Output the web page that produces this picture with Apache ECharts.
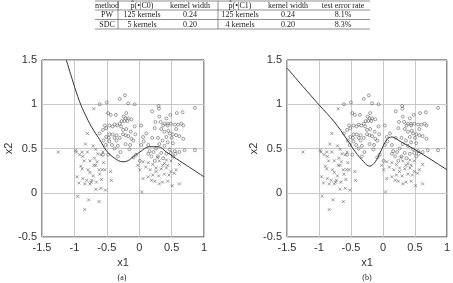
<!DOCTYPE html>
<html><head><meta charset="utf-8">
<script src="https://cdn.jsdelivr.net/npm/echarts@6/dist/echarts.min.js"></script>
<style>html,body{margin:0;padding:0;background:#fff}#c{width:453px;height:283px}</style>
</head><body><div id="c"></div>
<script>
// ---- data ----
const xTicks = [-1.5, -1, -0.5, 0, 0.5, 1];
const yTicks = [-0.5, 0, 0.5, 1, 1.5];
const panelLabels = ['(a)', '(b)'];
const tableHeader = ['method', 'p̂(•|C0)', 'kernel width', 'p̂(•|C1)', 'kernel width', 'test error rate'];
const tableRowPW = ['PW', '125 kernels', '0.24', '125 kernels', '0.24', '8.1%'];
const tableRowSDC = ['SDC', '5 kernels', '0.20', '4 kernels', '0.20', '8.3%'];

const circlePts = [
 [-0.5,1.02],[-0.61,1.0],[-0.30,1.06],[-0.22,1.10],[-0.17,1.01],[-0.07,1.0],[-0.48,0.90],[-0.44,0.88],
 [-0.24,0.86],[-0.20,0.90],[-0.21,0.84],[-0.17,0.84],[-0.12,0.83],[-0.27,0.81],[-0.23,0.81],[-0.18,0.81],
 [-0.30,0.78],[-0.38,0.77],[-0.46,0.76],[-0.53,0.76],[-0.51,0.73],[-0.41,0.75],[-0.34,0.76],[-0.28,0.75],
 [-0.07,0.75],[0.03,0.76],[-0.25,0.71],[-0.20,0.72],[-0.13,0.69],[-0.56,0.71],[-0.61,0.67],[-0.46,0.66],
 [-0.41,0.66],[-0.35,0.65],[-0.25,0.66],[-0.21,0.65],[-0.17,0.64],[-0.51,0.63],[-0.47,0.62],[-0.38,0.62],
 [-0.30,0.62],[-0.55,0.59],[-0.46,0.58],[-0.35,0.59],[-0.12,0.61],[-0.09,0.59],[-0.52,0.54],[-0.42,0.54],
 [-0.33,0.53],[-0.21,0.55],[-0.14,0.54],[-0.38,0.50],[-0.29,0.46],[-0.56,0.43],[-0.48,0.43],[-0.33,0.41],
 [-0.15,0.49],[-0.05,0.43],[-0.09,0.40],[0.01,0.36],[0.06,0.63],[0.11,0.67],[0.07,0.58],[0.03,0.54],[0.14,0.54],
 [0.30,0.98],[0.305,0.95],[0.20,0.92],[0.67,0.91],[0.58,0.90],[0.48,0.88],[0.31,0.86],[0.42,0.84],[0.25,0.80],
 [0.39,0.78],[0.44,0.78],[0.49,0.78],[0.55,0.77],[0.60,0.77],[0.65,0.78],[0.68,0.76],[0.44,0.76],[0.37,0.76],
 [0.34,0.72],[0.24,0.73],[0.39,0.69],[0.47,0.67],[0.52,0.66],[0.57,0.65],[0.42,0.63],[0.50,0.62],[0.29,0.62],
 [0.20,0.62],[0.62,0.64],[0.68,0.61],[0.36,0.59],[0.44,0.57],[0.52,0.56],[0.31,0.55],[0.39,0.53],[0.47,0.49],
 [0.55,0.47],[0.62,0.46],[0.70,0.48],[0.86,0.48],[0.86,0.96],[0.26,0.50],[0.16,0.47],[0.22,0.46],[0.34,0.45],
 [0.42,0.44],[0.49,0.45],[0.56,0.44],[0.29,0.41],[0.37,0.39],[0.14,0.44],[0.19,0.41],[0.52,0.41],[0.24,0.36],
 [-0.36,0.88],[0.33,0.80],[0.57,0.72],[0.45,0.70],[-0.06,0.66]
];
const crossPts = [
 [-1.25,0.46],[-0.98,0.48],[-0.97,0.46],[-0.88,0.46],[-0.87,0.41],[-0.80,0.46],[-0.83,0.55],[-0.80,0.67],
 [-0.71,0.53],[-0.67,0.49],[-0.64,0.44],[-0.59,0.43],[-0.85,0.36],[-0.76,0.36],[-0.70,0.31],[-0.67,0.31],
 [-0.88,0.27],[-0.79,0.26],[-0.76,0.23],[-0.62,0.26],[-0.57,0.26],[-0.53,0.26],[-0.61,0.21],[-0.71,0.19],
 [-0.96,0.18],[-0.87,0.16],[-0.81,0.14],[-0.73,0.14],[-0.58,0.15],[-0.66,0.12],[-0.93,0.11],[-0.84,0.10],
 [-0.76,0.10],[-0.74,0.12],[-0.67,0.04],[-0.59,0.05],[-0.52,0.03],[-0.44,0.24],[-0.43,0.14],[-0.95,-0.04],
 [-0.78,-0.08],[-0.62,-0.10],[-0.84,-0.19],[-0.56,0.46],[-0.92,0.43],[-0.70,0.95],[-0.65,0.35],[-0.90,0.30],
 [-0.69,0.39],[-0.55,0.34],
 [0.06,0.35],[0.14,0.34],[0.21,0.32],[0.31,0.36],[0.39,0.33],[0.44,0.31],[0.49,0.36],[0.26,0.28],[0.34,0.27],
 [0.42,0.28],[0.49,0.24],[0.57,0.26],[0.26,0.24],[0.21,0.20],[0.30,0.19],[0.39,0.21],[0.14,0.18],[0.06,0.16],
 [0.24,0.13],[0.36,0.12],[0.44,0.13],[0.31,0.10],[0.51,0.08],[0.62,0.10],[0.04,0.01],[-0.02,0.31],[0.10,0.29],
 [0.17,0.26],[0.01,0.26],[0.46,0.20],[0.54,0.22],[0.42,0.37],[0.19,0.14],[0.62,0.32],[0.36,0.31],[0.28,0.40]
];
const boundaryA = [
 [-1.125,1.5],[-1.02,1.25],[-0.92,1.03],[-0.83,0.88],[-0.74,0.75],[-0.61,0.60],[-0.51,0.48],[-0.38,0.39],
 [-0.25,0.35],[-0.18,0.36],[-0.12,0.39],[0.01,0.46],[0.16,0.52],[0.29,0.52],[0.42,0.46],[0.52,0.41],[0.73,0.31],[1.0,0.18]
];
const boundaryB = [
 [-1.5,1.41],[-1.25,1.2],[-0.995,0.99],[-0.76,0.80],[-0.56,0.60],[-0.43,0.46],[-0.30,0.35],[-0.21,0.30],
 [-0.12,0.35],[-0.04,0.46],[0.06,0.60],[0.14,0.63],[0.27,0.58],[0.42,0.52],[0.63,0.43],[1.0,0.26]
];

// ---- chart ----
const ink = '#333';
const markInk = '#555';
const chart = echarts.init(document.getElementById('c'), null, {renderer: 'canvas'});
const grids = [
 {left: 42, top: 60, width: 162, height: 177, show: true, borderColor: ink, borderWidth: 1},
 {left: 287, top: 60, width: 162, height: 177, show: true, borderColor: ink, borderWidth: 1}
];
function xAx(i) {
 return {gridIndex: i, type: 'value', min: xTicks[0], max: xTicks[xTicks.length-1], interval: 0.5,
  name: 'x1', nameLocation: 'middle', nameGap: 20,
  nameTextStyle: {fontFamily: 'Liberation Sans', fontSize: 11, color: ink},
  axisLine: {show: false}, axisTick: {show: false},
  axisLabel: {fontFamily: 'Liberation Sans', fontSize: 11, color: ink, margin: 5,
   formatter: v => xTicks.find(t => Math.abs(t - v) < 1e-9) !== undefined ? String(v) : ''},
  splitLine: {show: true, lineStyle: {color: '#c8c8c8', width: 1}}};
}
function yAx(i) {
 return {gridIndex: i, type: 'value', min: yTicks[0], max: yTicks[yTicks.length-1], interval: 0.5,
  name: 'x2', nameLocation: 'middle', nameGap: 25,
  nameTextStyle: {fontFamily: 'Liberation Sans', fontSize: 11, color: ink},
  axisLine: {show: false}, axisTick: {show: false},
  axisLabel: {fontFamily: 'Liberation Sans', fontSize: 11, color: ink, margin: 5,
   formatter: v => String(v)},
  splitLine: {show: true, lineStyle: {color: '#c8c8c8', width: 1}}};
}
const crossSym = 'path://M0,0L10,10M10,0L0,10';
const series = [];
[0, 1].forEach(i => {
 series.push({type: 'scatter', xAxisIndex: i, yAxisIndex: i, data: circlePts, symbol: 'circle', symbolSize: 3,
  itemStyle: {color: 'rgba(0,0,0,0)', borderColor: markInk, borderWidth: 0.7}, silent: true, animation: false});
 series.push({type: 'scatter', xAxisIndex: i, yAxisIndex: i, data: crossPts, symbol: crossSym, symbolSize: 3,
  itemStyle: {color: 'none', borderColor: markInk, borderWidth: 0.7}, silent: true, animation: false});
 series.push({type: 'line', xAxisIndex: i, yAxisIndex: i, data: i === 0 ? boundaryA : boundaryB,
  smooth: 0.4, showSymbol: false, lineStyle: {color: ink, width: 1}, silent: true, animation: false});
});

// table graphics
const colX = [107, 142, 190, 240, 288, 343];
const rowY = [5.5, 15, 24.5];
const rows = [tableHeader, tableRowPW, tableRowSDC];
const graphic = [];
rows.forEach((r, ri) => r.forEach((t, ci) => graphic.push({type: 'text', x: colX[ci], y: rowY[ri],
 style: {text: t, font: '8px "Liberation Serif"', fill: '#222', align: 'center', verticalAlign: 'middle'}})));
[1, 10, 19.5, 29].forEach(y => graphic.push({type: 'line', shape: {x1: 95, y1: y, x2: 370, y2: y},
 style: {stroke: '#444', lineWidth: 0.6}}));
[118, 218].forEach(x => graphic.push({type: 'line', shape: {x1: x, y1: 1, x2: x, y2: 29},
 style: {stroke: '#444', lineWidth: 0.6}}));
panelLabels.forEach((t, i) => graphic.push({type: 'text', x: i === 0 ? 122 : 367, y: 278,
 style: {text: t, font: '8px "Liberation Serif"', fill: '#222', align: 'center', verticalAlign: 'middle'}}));

chart.setOption({
 animation: false,
 backgroundColor: '#fff',
 grid: grids,
 xAxis: [xAx(0), xAx(1)],
 yAxis: [yAx(0), yAx(1)],
 series: series,
 graphic: graphic
});
</script></body></html>
